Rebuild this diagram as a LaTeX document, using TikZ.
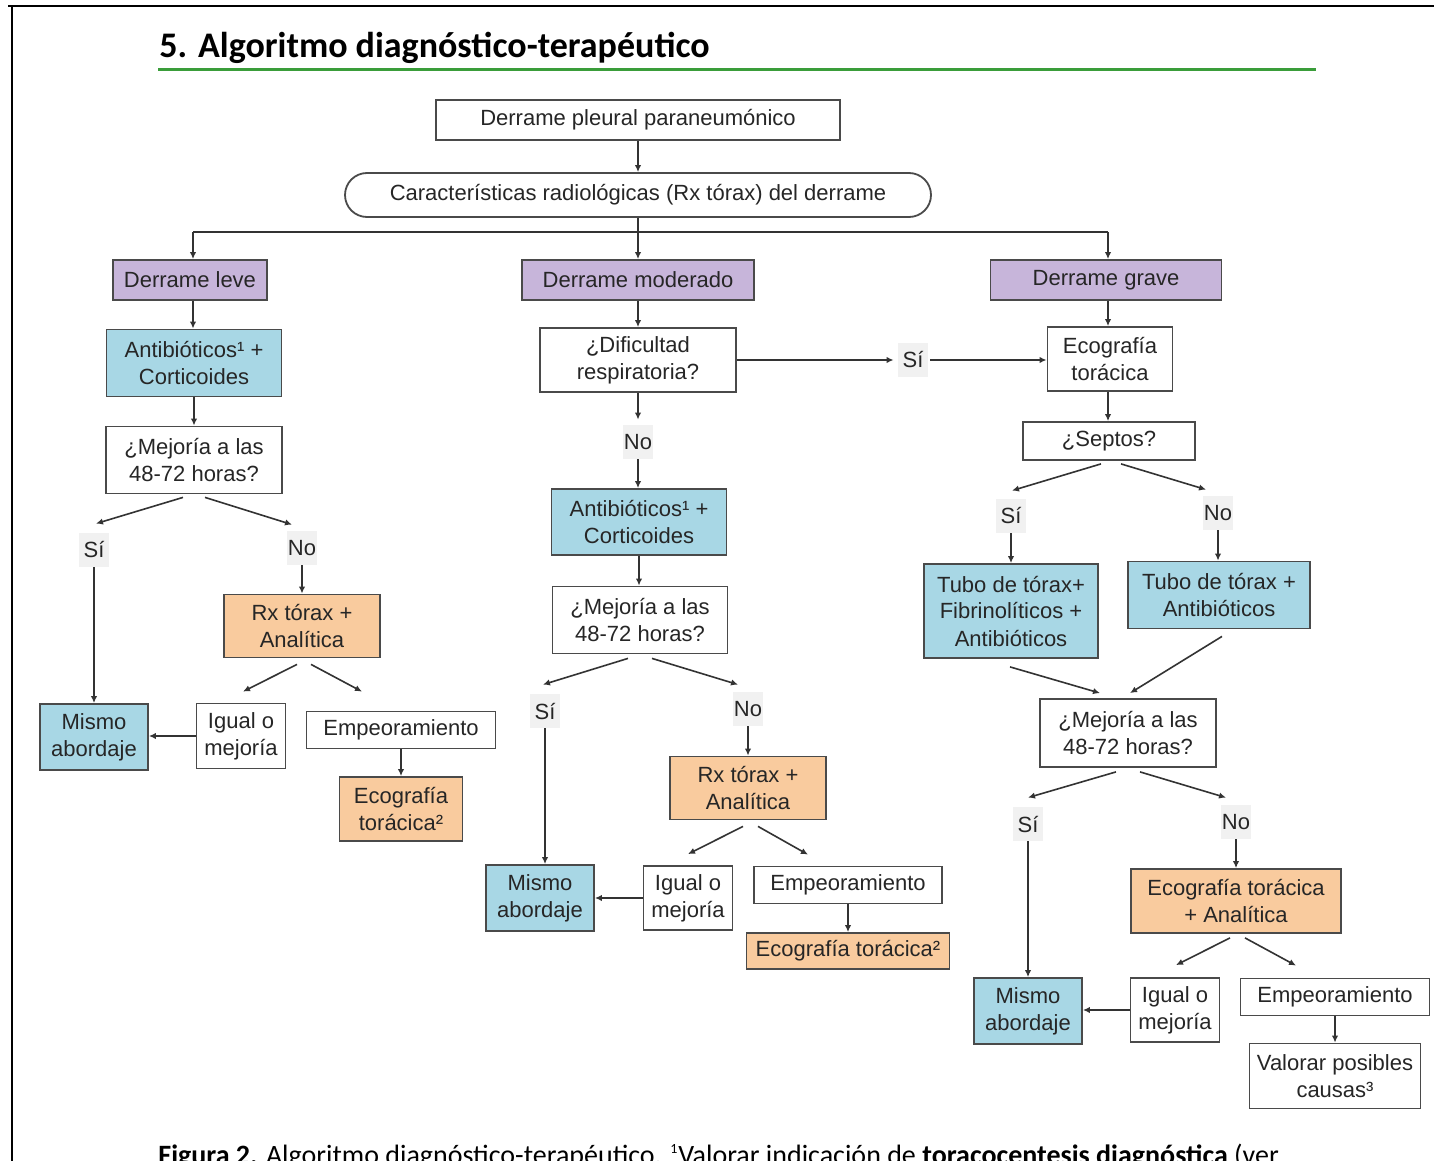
\documentclass[tikz,border=0pt]{standalone}
\usepackage{fontspec}
\setmainfont{Liberation Sans}
\newfontfamily\titlefont{Carlito}
\usetikzlibrary{arrows.meta,calc}
\definecolor{purp}{HTML}{C7B5DA}
\definecolor{bluec}{HTML}{A8D7E5}
\definecolor{orangec}{HTML}{F9CB9E}
\definecolor{lblc}{HTML}{F1F1F1}
\definecolor{bordc}{HTML}{4A4A4A}
\definecolor{linec}{HTML}{333333}
\definecolor{txtc}{HTML}{262626}
\definecolor{greenc}{HTML}{3A9D3A}
\newcommand{\boxfont}{\fontsize{11}{13.5}\selectfont}
\begin{document}
\begin{tikzpicture}[x=0.5pt,y=-0.5pt,
  bx/.style={draw=bordc, line width=0.9pt, text=txtc, font=\boxfont, align=center, inner sep=0pt},
  wbx/.style={bx, fill=white},
  pbx/.style={bx, fill=purp},
  bbx/.style={bx, fill=bluec},
  obx/.style={bx, fill=orangec},
  sz/.style 2 args={minimum width=#1*0.5pt, minimum height=#2*0.5pt},
  lbl/.style={fill=lblc, text=txtc, font=\boxfont, minimum width=15pt, minimum height=17pt, inner sep=0pt},
  arr/.style={draw=linec, line width=0.8pt, -{Latex[length=3.5pt,width=3.2pt]}},
  ln/.style={draw=linec, line width=0.8pt}]
\useasboundingbox (0,0) rectangle (1434,1161);
\clip (0,0) rectangle (1434,1161);
\fill[white] (0,0) rectangle (1434,1161);
% frame
\draw[line width=1.3pt] (8,6) -- (1434,6);
\draw[line width=1.3pt] (12,6) -- (12,1161);
% title
\node[anchor=base west, inner sep=0pt, font=\titlefont\bfseries\fontsize{18}{21}\selectfont] (title) at (159,58) {5. Algoritmo diagnóstico-terapéutico};
\draw[greenc, line width=1.5pt] (158,70) -- (1316,70);
% caption
\node[anchor=base west, inner sep=0pt, font=\titlefont\fontsize{14}{16}\selectfont] (caption) at (158,1164) {\textbf{Figura 2.} Algoritmo diagnóstico-terapéutico. \textsuperscript{\scriptsize 1}Valorar indicación de \textbf{toracocentesis diagnóstica} (ver};

% top
\node[wbx, sz={404}{40}] (top) at (638,120) {Derrame pleural paraneumónico};
\node[wbx, sz={586}{44}, rounded corners=11pt] (carac) at (638,195) {Características radiológicas (Rx tórax) del derrame};
\node[pbx, sz={154}{40}] (leve) at (190,280) {Derrame leve};
\node[pbx, sz={232}{40}] (moderado) at (638,280) {Derrame moderado};
\node[pbx, sz={231}{40}] (grave) at (1106,280) {Derrame grave};

% left column
\node[bbx, sz={175}{67}] (antiL) at (194,363) {Antibióticos¹ +\\Corticoides};
\node[wbx, sz={176}{67}] (mejL) at (194,460) {¿Mejoría a las\\48-72 horas?};
\node[lbl] (siL) at (94,550) {Sí};
\node[lbl] (noL) at (302,548) {No};
\node[obx, sz={156}{63}] (rxL) at (302,626) {Rx tórax +\\Analítica};
\node[bbx, sz={108}{66}] (mismoL) at (94,737) {Mismo\\abordaje};
\node[wbx, sz={89}{65}] (igualL) at (241,736) {Igual o\\mejoría};
\node[wbx, sz={189}{37}] (empL) at (401,730) {Empeoramiento};
\node[obx, sz={123}{64}] (ecoL) at (401,809) {Ecografía\\torácica²};

% middle column
\node[wbx, sz={196}{64}] (dif) at (638,360) {¿Dificultad\\respiratoria?};
\node[lbl] (siM1) at (913,360) {Sí};
\node[lbl] (noM1) at (638,442) {No};
\node[bbx, sz={175}{66}] (antiM) at (639,522) {Antibióticos¹ +\\Corticoides};
\node[wbx, sz={175}{67}] (mejM) at (640,620) {¿Mejoría a las\\48-72 horas?};
\node[lbl] (siM2) at (545,711) {Sí};
\node[lbl] (noM2) at (748,709) {No};
\node[obx, sz={156}{63}] (rxM) at (748,788) {Rx tórax +\\Analítica};
\node[bbx, sz={108}{66}] (mismoM) at (540,898) {Mismo\\abordaje};
\node[wbx, sz={89}{64}] (igualM) at (688,898) {Igual o\\mejoría};
\node[wbx, sz={188}{37}] (empM) at (848,885) {Empeoramiento};
\node[obx, sz={203}{36}] (ecoM) at (848,951) {Ecografía torácica²};

% right column
\node[wbx, sz={125}{64}] (ecoR) at (1110,359) {Ecografía\\torácica};
\node[wbx, sz={172}{38}] (septos) at (1109,441) {¿Septos?};
\node[lbl] (siR1) at (1011,516) {Sí};
\node[lbl] (noR1) at (1218,513) {No};
\node[bbx, sz={174}{94}] (tubo1) at (1011,611) {Tubo de tórax+\\Fibrinolíticos +\\Antibióticos};
\node[bbx, sz={182}{67}] (tubo2) at (1219,595) {Tubo de tórax +\\Antibióticos};
\node[wbx, sz={176}{68}] (mejR) at (1128,733) {¿Mejoría a las\\48-72 horas?};
\node[lbl] (siR2) at (1028,824) {Sí};
\node[lbl] (noR2) at (1236,822) {No};
\node[obx, sz={210}{64}] (ecoAR) at (1236,901) {Ecografía torácica\\+ Analítica};
\node[bbx, sz={108}{66}] (mismoR) at (1028,1011) {Mismo\\abordaje};
\node[wbx, sz={89}{64}] (igualR) at (1175,1010) {Igual o\\mejoría};
\node[wbx, sz={189}{37}] (empR) at (1335,997) {Empeoramiento};
\node[wbx, sz={171}{65}] (valorar) at (1335,1076) {Valorar posibles\\causas³};

% connectors top
\draw[arr] (top.south) -- (carac.north);
\draw[arr] (carac.south) -- (moderado.north);
\coordinate (barL) at (193,232);
\coordinate (barR) at (1108,232);
\draw[ln] (barL) -- (barR);
\draw[arr] (barL) -- (barL |- leve.north);
\draw[arr] (barR) -- (barR |- grave.north);

% left
\coordinate (la) at ($(leve.south)+(3,0)$);
\draw[arr] (la) -- (la |- antiL.north);
\draw[arr] (antiL.south) -- (antiL.south |- mejL.north);
\draw[arr] ($(mejL.south)+(-11,3)$) -- ($(siL.north)+(2,-9)$);
\draw[arr] ($(mejL.south)+(11,3)$) -- ($(noL.north)+(-10,-6)$);
\draw[arr] (siL.south) -- (siL.south |- mismoL.north);
\draw[arr] (noL.south) -- (noL.south |- rxL.north);
\draw[arr] ($(rxL.south)+(-5,6)$) -- ($(igualL.north)+(2,-11)$);
\draw[arr] ($(rxL.south)+(9,6)$) -- ($(empL.north)+(-39,-19)$);
\draw[arr] (igualL.west) -- (igualL.west -| mismoL.east);
\draw[arr] (empL.south) -- (empL.south |- ecoL.north);

% middle
\draw[arr] (moderado.south) -- (moderado.south |- dif.north);
\draw[arr] (dif.east) -- ($(siM1.west)+(-4,0)$);
\coordinate (sa) at ($(siM1.east)+(2,0)$);
\draw[arr] (sa) -- (sa -| ecoR.west);
\draw[arr] (dif.south) -- ($(noM1.north)+(0,-5)$);
\draw[arr] (noM1.south) -- (noM1.south |- antiM.north);
\draw[arr] (antiM.south) -- (antiM.south |- mejM.north);
\draw[arr] ($(mejM.south)+(-12,4)$) -- ($(siM2.north)+(-2,-9)$);
\draw[arr] ($(mejM.south)+(12,4)$) -- ($(noM2.north)+(-10,-7)$);
\draw[arr] (siM2.south) -- (siM2.south |- mismoM.north);
\draw[arr] (noM2.south) -- (noM2.south |- rxM.north);
\draw[arr] ($(rxM.south)+(-5,6)$) -- ($(igualM.north)+(0,-11)$);
\draw[arr] ($(rxM.south)+(10,6)$) -- ($(empM.north)+(-40,-11)$);
\draw[arr] (igualM.west) -- (igualM.west -| mismoM.east);
\draw[arr] (empM.south) -- (empM.south |- ecoM.north);

% right
\draw[arr] (barR |- grave.south) -- (barR |- ecoR.north);
\draw[arr] (barR |- ecoR.south) -- (barR |- septos.north);
\draw[arr] ($(septos.south)+(-8,3)$) -- ($(siR1.north)+(1,-8)$);
\draw[arr] ($(septos.south)+(12,3)$) -- ($(noR1.north)+(-12,-6)$);
\draw[arr] (siR1.south) -- (siR1.south |- tubo1.north);
\draw[arr] (noR1.south) -- (noR1.south |- tubo2.north);
\draw[arr] ($(tubo1.south)+(-1,8)$) -- ($(mejR.north)+(-28,-5)$);
\draw[arr] ($(tubo2.south)+(3,7)$) -- ($(mejR.north)+(2,-5)$);
\draw[arr] ($(mejR.south)+(-12,4)$) -- ($(siR2.north)+(0,-9)$);
\draw[arr] ($(mejR.south)+(12,4)$) -- ($(noR2.north)+(-10,-7)$);
\draw[arr] (siR2.south) -- (siR2.south |- mismoR.north);
\draw[arr] (noR2.south) -- (noR2.south |- ecoAR.north);
\draw[arr] ($(ecoAR.south)+(-6,4)$) -- ($(igualR.north)+(1,-12)$);
\draw[arr] ($(ecoAR.south)+(9,4)$) -- ($(empR.north)+(-39,-12)$);
\draw[arr] (igualR.west) -- (igualR.west -| mismoR.east);
\draw[arr] (empR.south) -- (empR.south |- valorar.north);
\end{tikzpicture}
\end{document}
